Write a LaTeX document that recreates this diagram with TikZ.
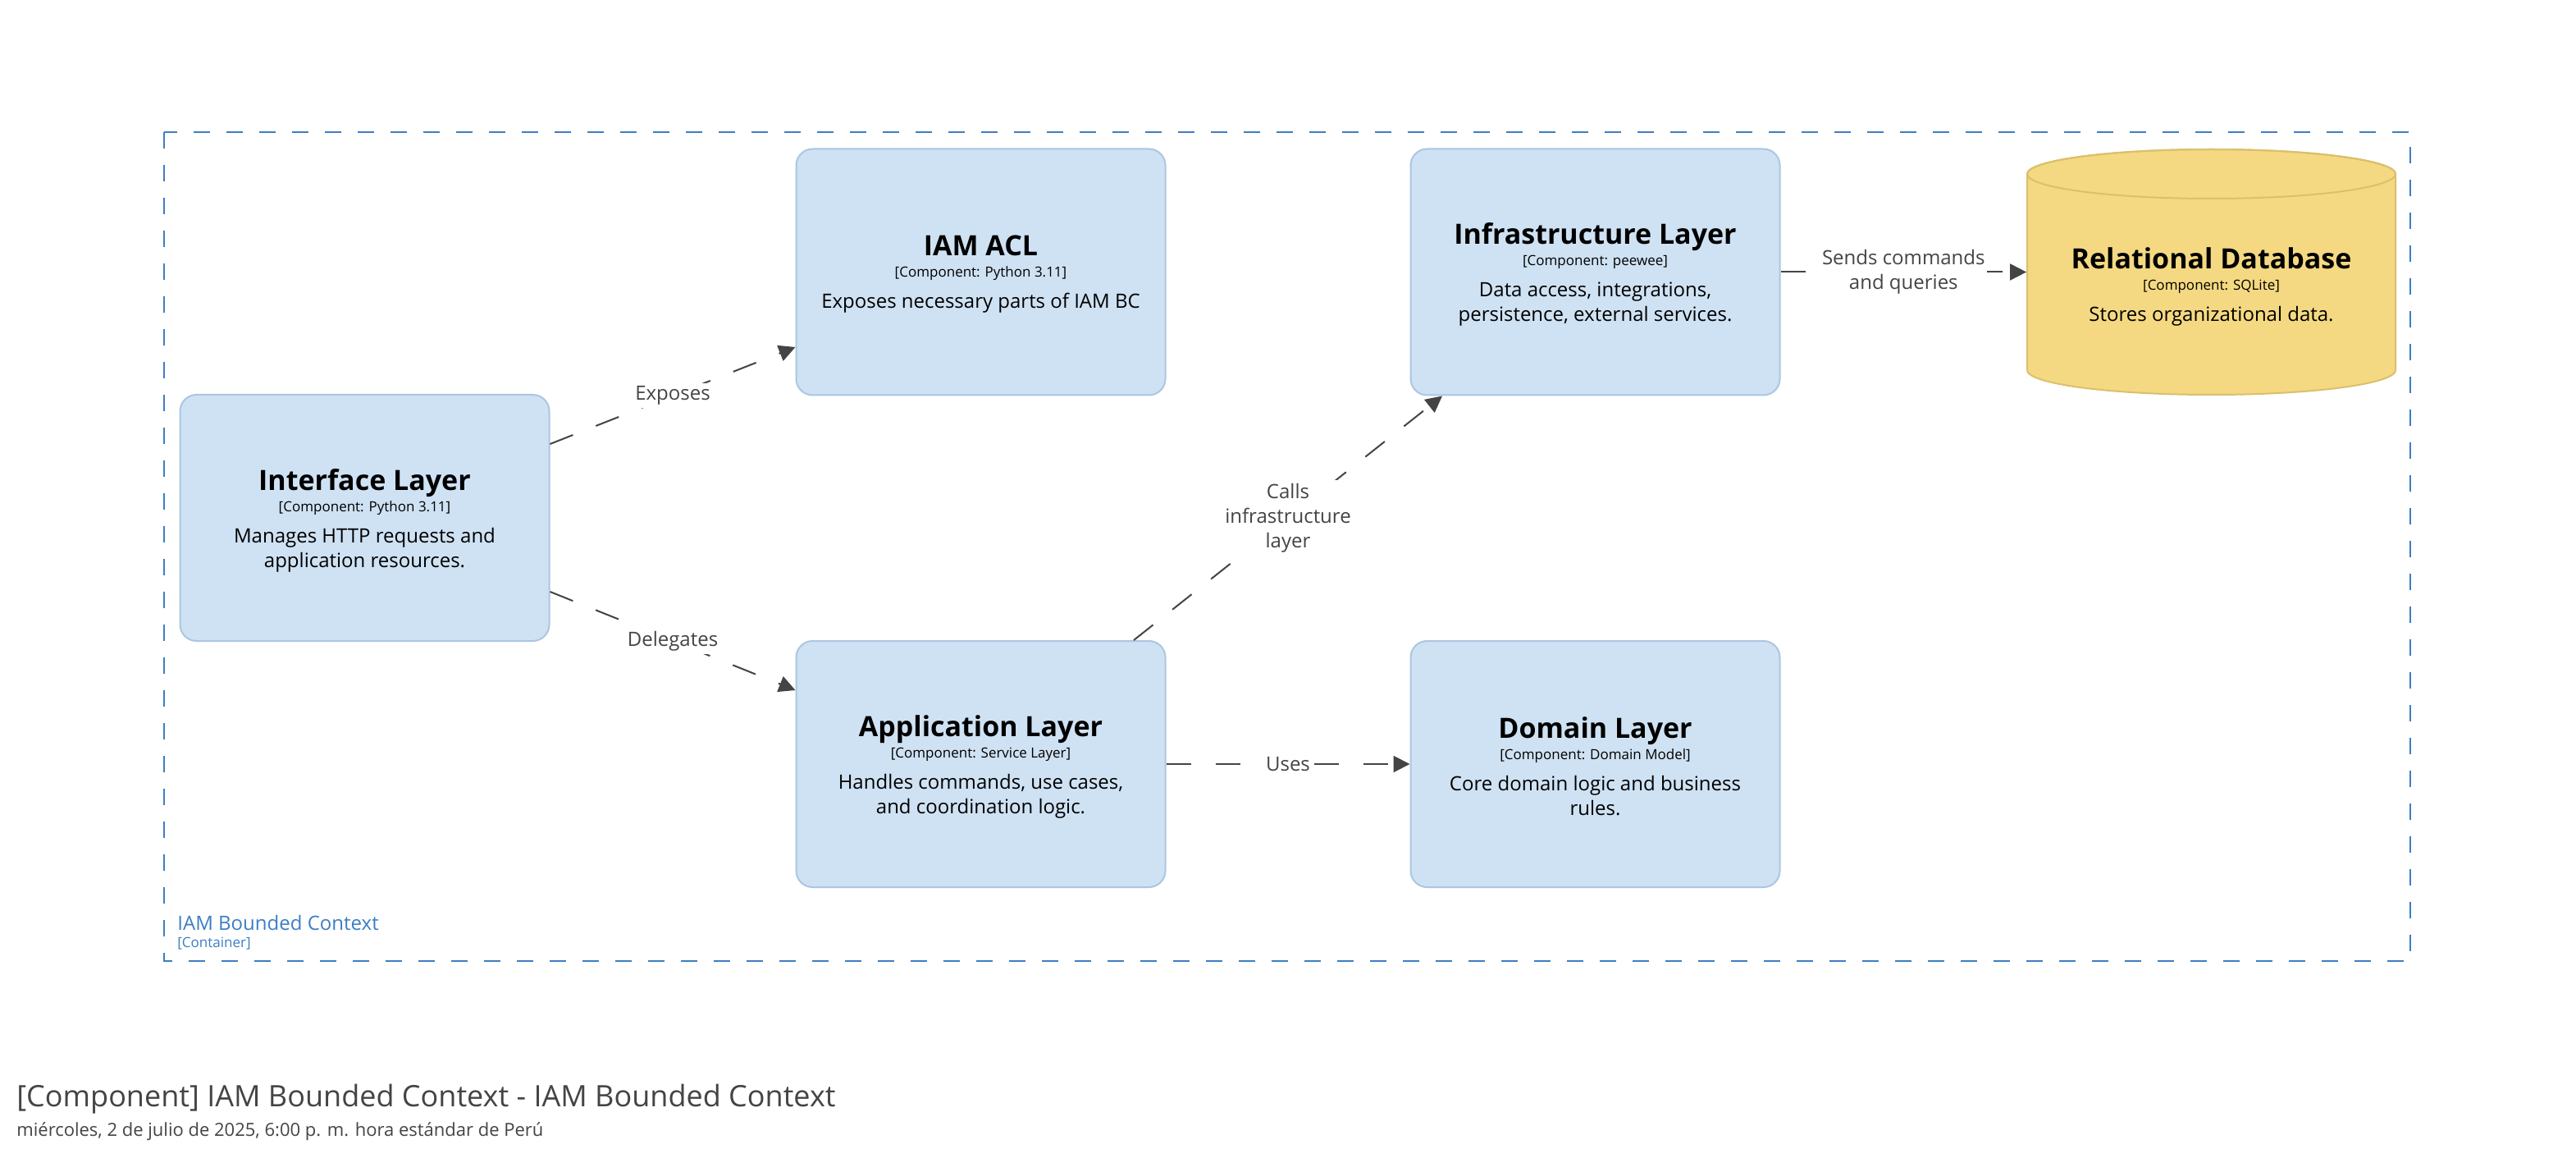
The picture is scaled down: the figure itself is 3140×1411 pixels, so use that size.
\documentclass[tikz,border=0pt]{standalone}
\usepackage{fontspec}
\setmainfont{Open Sans}
\usetikzlibrary{arrows.meta,calc}
\definecolor{boxfill}{RGB}{207,226,243}
\definecolor{boxline}{RGB}{172,198,225}
\definecolor{dbfill}{RGB}{245,217,130}
\definecolor{dbline}{RGB}{218,192,108}
\definecolor{bound}{RGB}{61,126,194}
\definecolor{relc}{RGB}{68,68,68}
\tikzset{
  comp/.style={draw=boxline, fill=boxfill, line width=1pt, rounded corners=10pt,
    minimum width=225pt, minimum height=150pt, inner sep=0pt},
  ctext/.style={minimum width=225pt, align=center, inner sep=0pt,
    font=\fontsize{12}{15}\selectfont},
  rel/.style={draw=relc, line width=1pt, dash pattern=on 15pt off 15pt,
    -{Triangle[length=10pt,width=10pt]}},
  rellab/.style={fill=white, text=relc, align=center, inner sep=2pt,
    font=\fontsize{12}{15}\selectfont},
}
\newcommand{\ctitle}[1]{{\fontsize{17}{20}\selectfont\bfseries #1}\\[-2pt]}
\newcommand{\ctech}[1]{{\fontsize{8.5}{10}\selectfont #1}\\[4pt]}
\begin{document}
\begin{tikzpicture}[x=0.5pt,y=-0.5pt]
\useasboundingbox[fill=white] (0,0) rectangle (3140,1411);
% boundary
\draw[bound, line width=1pt, dash pattern=on 10pt off 10pt] (200,161) rectangle (2938,1171);
\node[anchor=west, text=bound, inner sep=0pt, font=\fontsize{12}{14}\selectfont] (bname) at (216,1124) {IAM Bounded Context};
\node[anchor=west, text=bound, inner sep=0pt, font=\fontsize{8.5}{10}\selectfont] (btype) at (216,1150) {[Container]};
% components
\node[comp] (int) at (444.5,631) {};
\node[ctext] (intT) at ($(int)+(0,3)$) {\ctitle{Interface Layer}\ctech{[Component: Python 3.11]}Manages HTTP requests and\\application resources.};
\node[comp] (acl) at (1195.5,331.5) {};
\node[ctext] (aclT) at ($(acl)+(0,3)$) {\ctitle{IAM ACL}\ctech{[Component: Python 3.11]}Exposes necessary parts of IAM BC};
\node[comp] (infra) at (1944.5,331.5) {};
\node[ctext] (infraT) at ($(infra)+(0,3)$) {\ctitle{Infrastructure Layer}\ctech{[Component: peewee]}Data access, integrations,\\persistence, external services.};
\node[comp] (app) at (1195.5,931) {};
\node[ctext] (appT) at ($(app)+(0,3)$) {\ctitle{Application Layer}\ctech{[Component: Service Layer]}Handles commands, use cases,\\and coordination logic.};
\node[comp] (dom) at (1944.5,931) {};
\node[ctext] (domT) at ($(dom)+(0,3)$) {\ctitle{Domain Layer}\ctech{[Component: Domain Model]}Core domain logic and business\\rules.};
% database cylinder
\path[fill=dbfill, draw=dbline, line width=1pt]
  (2471,212) -- (2471,451) arc[start angle=180, end angle=0, x radius=224.5, y radius=30]
  -- (2920,212) arc[start angle=0, end angle=-180, x radius=224.5, y radius=30] -- cycle;
\draw[dbline, line width=1pt] (2695.5,212) ellipse[x radius=224.5, y radius=30];
\node[ctext] (db) at (2695.5,349) {\ctitle{Relational Database}\ctech{[Component: SQLite]}Stores organizational data.};
% relations
\draw[rel] ($(int.east)+(0,-90)$) -- node[rellab]{Exposes} ($(acl.west)+(0,91.5)$);
\draw[rel] ($(int.east)+(0,90)$) -- node[rellab]{Delegates} ($(app.west)+(0,-90)$);
\draw[rel] ($(app.north)+(186.5,0)$) -- node[rellab]{Calls\\infrastructure\\layer} ($(infra.south)+(-186.5,0)$);
\draw[rel] (infra.east) -- node[rellab, inner sep=1pt]{Sends commands\\and queries} (db.west |- infra.east);
\draw[rel] (app.east) -- node[rellab]{Uses} (dom.west);
% footer
\node[anchor=west, text=relc, inner sep=0pt, font=\fontsize{18}{22}\selectfont] (ftitle) at (20,1339) {[Component] IAM Bounded Context - IAM Bounded Context};
\node[anchor=west, text=relc, inner sep=0pt, font=\fontsize{11}{13}\selectfont] (fdate) at (20,1379) {miércoles, 2 de julio de 2025, 6:00 p. m. hora estándar de Perú};
\end{tikzpicture}
\end{document}
